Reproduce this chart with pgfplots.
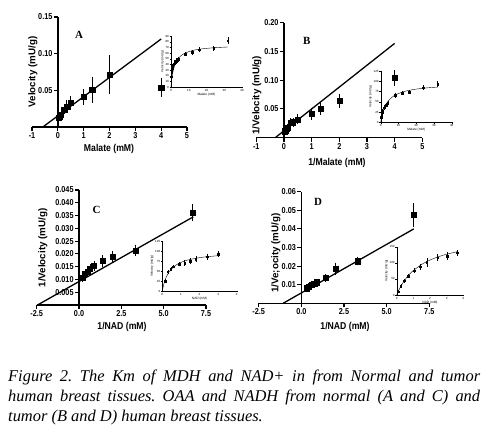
\documentclass[border=0pt]{standalone}
\usepackage{fontspec}
\setmainfont{Liberation Serif}
\newfontfamily\arial{Liberation Sans}
\usepackage{pgfplots}
\pgfplotsset{compat=1.18}
\pgfplotsset{
  mainax/.style={
    scale only axis, clip=false,
    axis x line*=bottom, axis y line*=middle,
    axis line style={line width=1.5pt},
    tick align=outside, major tick length=4bp,
    tick style={line width=1.1pt,black},
    scaled ticks=false,
    ticklabel style={font=\arial\bfseries\fontsize{8.6}{9}\selectfont, xscale=0.85, inner sep=1.5bp},
    /pgf/number format/assume math mode=true,
    hide obscured x ticks=false, hide obscured y ticks=false,
  },
  inax/.style={
    scale only axis, clip=false,
    axis x line*=bottom, axis y line*=left,
    axis line style={line width=0.4pt},
    tick align=outside, major tick length=1.3bp,
    tick style={line width=0.3pt,black},
    scaled ticks=false,
    ticklabel style={font=\arial\fontsize{3}{3.5}\selectfont, inner sep=0.6bp},
    /pgf/number format/assume math mode=true,
    xlabel style={font=\arial\fontsize{3.2}{3.5}\selectfont, inner sep=0.8bp},
    ylabel style={font=\arial\fontsize{3.2}{3.5}\selectfont, inner sep=0.8bp},
    xmin=0, ymin=0,
  },
  dat/.style={only marks, mark=square*, mark size=2.6bp, black,
    error bars/y dir=both, error bars/y explicit,
    error bars/error bar style={line width=0.8pt},
    error bars/error mark options={mark size=2.6bp, line width=0.8pt}},
  idat/.style={only marks, mark=square*, mark size=0.8bp, black,
    error bars/y dir=both, error bars/y explicit,
    error bars/error bar style={line width=0.3pt},
    error bars/error mark options={mark size=1bp, line width=0.3pt}},
  fitl/.style={black, line width=1.3pt},
  ifit/.style={black, line width=0.4pt, smooth},
  xlab/.style={xlabel style={at={(axis description cs:#1)}, anchor=center, xscale=0.87, font=\arial\bfseries\fontsize{10}{12}\selectfont}},
  ylab/.style={ylabel style={at={(axis description cs:#1)}, anchor=center, font=\arial\bfseries\fontsize{9.8}{12}\selectfont}},
}
\begin{document}
\frenchspacing
\begin{tikzpicture}[x=1bp,y=1bp]
\useasboundingbox (0,0) rectangle (488bp,-426bp);

% ---------------- Panel A ----------------
\begin{axis}[mainax, at={(32bp,-127bp)}, anchor=south west, width=155bp, height=110bp,
  xmin=-1, xmax=5, ymin=0, ymax=0.15,
  xtick={-1,0,1,2,3,4,5}, ytick={0.05,0.10,0.15},
  yticklabel style={/pgf/number format/fixed, /pgf/number format/fixed zerofill, /pgf/number format/precision=2},
  xlabel={Malate (mM)}, ylabel={Velocity (mU/g)},
  xlab={0.497,-0.2}, ylab={0.006,0.5},
]
\addplot[fitl] coordinates {(-0.58,0) (4,0.12)};
\addplot[dat] coordinates {
 (0.031,0.0125) +- (0,0.001)
 (0.042,0.013) +- (0,0.001)
 (0.0625,0.014) +- (0,0.0015)
 (0.083,0.015) +- (0,0.0015)
 (0.125,0.0165) +- (0,0.002)
 (0.25,0.024) +- (0,0.003)
 (0.33,0.028) +- (0,0.005)
 (0.5,0.033) +- (0,0.006)
 (1,0.041) +- (0,0.007)
 (1.33,0.051) +- (0,0.0143)
 (2,0.071) +- (0,0.023)
 (4,0.054) +- (0,0.0095)
};
\end{axis}
\begin{axis}[inax, at={(171bp,-87bp)}, anchor=south west, width=71bp, height=51bp,
  xmax=40, ymax=90, xtick={0,10,20,30,40}, ytick={0,10,20,30,40,50,60,70,80,90},
  xlabel={Malate (mM)}, ylabel={Velocity (mU/g)}]
\addplot[ifit] coordinates {(0,0) (0.25,8.3) (0.5,15) (1,25) (1.5,32.1) (2,37.5) (3,45) (4,50) (6,56.3) (8,60) (12,64.3) (16,66.7) (20,68.2) (24,69.2) (28,70) (32,70.6)};
\addplot[idat] coordinates {
 (0.25,18) +- (0,3) (0.5,27) +- (0,3) (0.75,33) +- (0,3) (1,38) +- (0,3)
 (2,42) +- (0,3) (3,46) +- (0,3) (4,49) +- (0,3) (8,58) +- (0,2)
 (12,61) +- (0,3) (16,66) +- (0,2) (24,68) +- (0,2) (32,82) +- (0,4)
};
\end{axis}

% ---------------- Panel B ----------------
\begin{axis}[mainax, at={(256.3bp,-137.7bp)}, anchor=south west, width=166bp, height=115bp,
  xmin=-1, xmax=5, ymin=0, ymax=0.2,
  xtick={-1,0,1,2,3,4,5}, ytick={0.05,0.10,0.15,0.20},
  yticklabel style={/pgf/number format/fixed, /pgf/number format/fixed zerofill, /pgf/number format/precision=2},
  xlabel={1/Malate (mM)}, ylabel={1/Velocity (mU/g)},
  xlab={0.486,-0.22}, ylab={0.004,0.37},
]
\addplot[fitl] coordinates {(-0.316,0) (4,0.164)};
\addplot[dat] coordinates {
 (0.031,0.010) +- (0,0.001)
 (0.042,0.012) +- (0,0.001)
 (0.0625,0.015) +- (0,0.0015)
 (0.083,0.016) +- (0,0.0015)
 (0.125,0.018) +- (0,0.002)
 (0.25,0.026) +- (0,0.003)
 (0.33,0.027) +- (0,0.003)
 (0.5,0.032) +- (0,0.004)
 (1,0.042) +- (0,0.006)
 (1.33,0.051) +- (0,0.007)
 (2,0.064) +- (0,0.0075)
 (4,0.104) +- (0,0.0095)
};
\end{axis}
\begin{axis}[inax, at={(380.7bp,-122.3bp)}, anchor=south west, width=71bp, height=51.3bp,
  xmax=40, ymax=125, xtick={0,10,20,30,40}, ytick={0,25,50,75,100,125},
  xlabel={Malate (mM)}, ylabel={Velocity (mU/g)}]
\addplot[ifit] coordinates {(0,0) (0.25,6.3) (0.5,11.9) (1,21.1) (1.5,28.5) (2,34.5) (3,43.8) (4,50.7) (6,60) (8,66.1) (12,73.5) (16,77.9) (20,80.9) (24,83.0) (28,84.6) (32,85.7)};
\addplot[idat] coordinates {
 (0.25,12) +- (0,2) (0.5,18) +- (0,2) (0.75,24) +- (0,2) (1,27) +- (0,2)
 (2,36) +- (0,3) (3,42) +- (0,3) (4,47) +- (0,3) (8,66) +- (0,4)
 (12,71) +- (0,3) (16,74) +- (0,2) (24,84) +- (0,4) (32,93) +- (0,4)
};
\end{axis}

% ---------------- Panel C ----------------
\begin{axis}[mainax, at={(36.7bp,-305bp)}, anchor=south west, width=169.3bp, height=115bp,
  xmin=-2.5, xmax=7.5, ymin=0, ymax=0.045,
  xtick={-2.5,0,2.5,5,7.5}, ytick={0.005,0.010,0.015,0.020,0.025,0.030,0.035,0.040,0.045},
  xticklabel style={/pgf/number format/fixed, /pgf/number format/fixed zerofill, /pgf/number format/precision=1},
  yticklabel style={/pgf/number format/fixed, /pgf/number format/fixed zerofill, /pgf/number format/precision=3},
  xlabel={1/NAD (mM)}, ylabel={1/Velocity (mU/g)},
  xlab={0.504,-0.19}, ylab={0.037,0.496},
]
\addplot[fitl] coordinates {(-2.45,0) (6.75,0.0345)};
\addplot[dat] coordinates {
 (0.22,0.0108) +- (0,0.0008)
 (0.35,0.0121) +- (0,0.0008)
 (0.49,0.0130) +- (0,0.001)
 (0.65,0.0141) +- (0,0.001)
 (0.89,0.0153) +- (0,0.001)
 (1.4,0.0172) +- (0,0.0015)
 (1.99,0.0189) +- (0,0.0013)
 (3.33,0.0213) +- (0,0.0013)
 (6.71,0.0361) +- (0,0.0023)
};
\end{axis}
\begin{axis}[inax, at={(162.3bp,-291bp)}, anchor=south west, width=74.4bp, height=50bp,
  xmax=4, ymax=125, xtick={0,1,2,3,4}, ytick={0,25,50,75,100,125},
  xlabel={NAD (mM)}, ylabel={Velocity (mU/g)}]
\addplot[ifit] coordinates {(0,0) (0.05,11.1) (0.1,20) (0.15,27.3) (0.2,33.3) (0.3,42.9) (0.4,50) (0.6,60) (0.8,66.7) (1,71.4) (1.25,75.8) (1.5,78.9) (2,83.3) (2.5,86.2) (3,88.2)};
\addplot[idat] coordinates {
 (0.15,25) +- (0,2) (0.3,48) +- (0,2) (0.45,55) +- (0,2) (0.6,61) +- (0,2)
 (0.9,67) +- (0,3) (1.2,70) +- (0,4) (1.5,74) +- (0,5) (1.8,80) +- (0,5)
 (2.4,86) +- (0,5) (3.0,92) +- (0,5)
};
\end{axis}

% ---------------- Panel D ----------------
\begin{axis}[mainax, at={(258.7bp,-303.3bp)}, anchor=south west, width=170.6bp, height=111.6bp,
  xmin=-2.5, xmax=7.5, ymin=0, ymax=0.06,
  xtick={-2.5,0,2.5,5,7.5}, ytick={0.01,0.02,0.03,0.04,0.05,0.06},
  xticklabel style={/pgf/number format/fixed, /pgf/number format/fixed zerofill, /pgf/number format/precision=1},
  yticklabel style={/pgf/number format/fixed, /pgf/number format/fixed zerofill, /pgf/number format/precision=2},
  xlabel={1/NAD (mM)}, ylabel={1/Ve;ocity (mU/g)},
  xlab={0.506,-0.21}, ylab={0.1,0.45},
]
\addplot[fitl] coordinates {(-1.07,0) (6.59,0.040)};
\addplot[dat] coordinates {
 (0.30,0.0081) +- (0,0.0005)
 (0.43,0.0089) +- (0,0.0005)
 (0.59,0.0102) +- (0,0.0006)
 (0.75,0.0107) +- (0,0.0006)
 (0.88,0.0113) +- (0,0.0006)
 (1.41,0.0138) +- (0,0.0008)
 (2.0,0.0185) +- (0,0.002)
 (3.29,0.0226) +- (0,0.0008)
 (6.59,0.0475) +- (0,0.005)
};
\end{axis}
\begin{axis}[inax, at={(396.7bp,-295bp)}, anchor=south west, width=66.6bp, height=48.3bp,
  xmax=4, ymax=150, xtick={0,1,2,3,4}, ytick={0,50,100,150},
  xlabel={NAD (mM)}, ylabel={Velocity (mU/g)}]
\addplot[ifit] coordinates {(0,0) (0.1,11.9) (0.25,27.1) (0.5,47.5) (0.75,63.3) (1,76) (1.5,95) (2,108.6) (2.5,118.8) (3,126.7) (3.65,134.7)};
\addplot[idat] coordinates {
 (0.1,10) +- (0,2) (0.25,28) +- (0,3) (0.45,44) +- (0,3) (0.7,59) +- (0,3)
 (1.05,76) +- (0,4) (1.4,88) +- (0,6) (1.8,101) +- (0,10) (2.45,116) +- (0,8)
 (3.05,121) +- (0,8) (3.65,131) +- (0,6)
};
\end{axis}

% panel letters
\node[font=\bfseries\fontsize{11}{12}\selectfont] at (79bp,-35bp) {A};
\node[font=\bfseries\fontsize{11}{12}\selectfont] at (306.7bp,-40.7bp) {B};
\node[font=\bfseries\fontsize{11}{12}\selectfont] at (96.7bp,-210bp) {C};
\node[font=\bfseries\fontsize{11}{12}\selectfont] at (318bp,-202bp) {D};

% caption
\node[anchor=north west, inner sep=0pt, text width=472bp, align=justify,
  font=\itshape\fontsize{16.5}{20}\selectfont] at (8bp,-370bp)
  {Figure 2. The Km of MDH and NAD+ in from Normal and tumor\linebreak
   human breast tissues. OAA and NADH from normal (A and C) and\linebreak
   tumor (B and D) human breast tissues.};
\end{tikzpicture}
\end{document}
